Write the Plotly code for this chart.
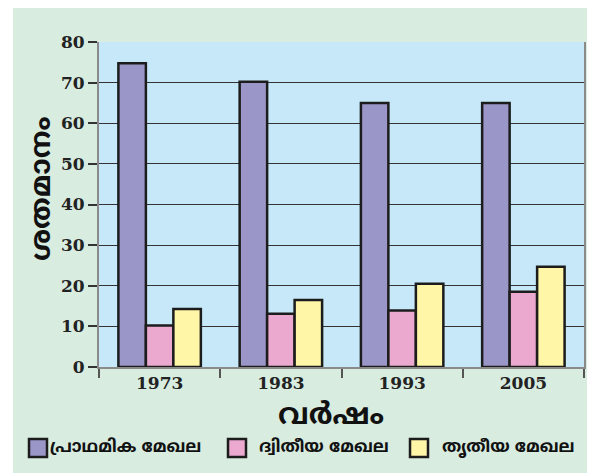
import plotly.graph_objects as go

years = ["1973", "1983", "1993", "2005"]
series_names = ["പ്രാഥമിക മേഖല", "ദ്വിതീയ മേഖല", "തൃതീയ മേഖല"]
primary = [74.8, 70.2, 65.0, 65.0]
secondary = [10.2, 13.1, 13.9, 18.5]
tertiary = [14.3, 16.5, 20.5, 24.7]
y_ticks = [0, 10, 20, 30, 40, 50, 60, 70, 80]
x_title = "വർഷം"
y_title = "ശതമാനം"

colors = ["#9b96c8", "#eba9cf", "#fff6a8"]
values = [primary, secondary, tertiary]

fig = go.Figure()
for name, vals, col in zip(series_names, values, colors):
    fig.add_trace(go.Bar(
        x=years, y=vals, name=name, showlegend=False,
        marker=dict(color=col, line=dict(color="#1c1c1c", width=2.5)),
    ))

# the page adds an 8px body margin, so figure coords = screen coords - 8
W, H = 595, 473
L, T = 91, 34
R, B = W - 576, H - 359
pw, ph = W - L - R, H - T - B


def px(x):
    return (x - L) / pw


def py(y):
    return (H - B - y) / ph


green = "#d8ece0"
mal_font = "Noto Sans Malayalam, Noto Sans, DejaVu Sans"

shapes = [
    dict(type="rect", xref="paper", yref="paper", layer="below",
         x0=px(-5), x1=px(5), y0=py(H + 5), y1=py(-5),
         fillcolor="white", line=dict(width=0)),
]
annotations = [
    dict(text=x_title, xref="paper", yref="paper", x=px(323), y=py(409),
         xanchor="center", yanchor="middle", showarrow=False,
         font=dict(family=mal_font, size=29, color="#111", weight="bold")),
    dict(text=y_title, xref="paper", yref="paper", x=px(35), y=py(181),
         xanchor="center", yanchor="middle", showarrow=False, textangle=-90,
         font=dict(family=mal_font, size=28, color="#111", weight="bold")),
]

# legend (squares + labels)
legend_sq_x = [21, 220, 402]
legend_tx_x = [40, 249, 432]
leg_y = 440
for name, col, sx, tx in zip(series_names, colors, legend_sq_x, legend_tx_x):
    shapes.append(dict(type="rect", xref="paper", yref="paper",
                       x0=px(sx), x1=px(sx + 18), y0=py(leg_y + 9), y1=py(leg_y - 9),
                       fillcolor=col, line=dict(color="#1c1c1c", width=2.5)))
    annotations.append(dict(text=name, xref="paper", yref="paper", x=px(tx), y=py(leg_y),
                            xanchor="left", yanchor="middle", showarrow=False,
                            font=dict(family=mal_font, size=17, color="#111", weight="bold")))

fig.update_layout(
    width=W, height=H,
    margin=dict(l=L, r=R, t=T, b=B, autoexpand=False),
    paper_bgcolor=green,
    plot_bgcolor="#c6e8f9",
    barmode="group", bargap=0.32, bargroupgap=0,
    showlegend=False,
    xaxis=dict(
        automargin=False,
        showline=True, linecolor="#8a8a8a", linewidth=2,
        ticks="outside", tickson="boundaries", ticklen=9, tickcolor="#555", tickwidth=1.5,
        tickfont=dict(family="DejaVu Serif", size=17, color="#222", weight="bold"),
        showgrid=False,
    ),
    yaxis=dict(
        automargin=False,
        range=[0, 80], tickvals=y_ticks,
        showline=True, mirror=True, linecolor="#8a8a8a", linewidth=2,
        ticks="outside", ticklen=9, tickcolor="#333", tickwidth=1.5,
        tickfont=dict(family="DejaVu Serif", size=17, color="#222", weight="bold"),
        showgrid=True, gridcolor="#333", gridwidth=1.2,
        zeroline=False,
    ),
    shapes=shapes,
    annotations=annotations,
)

fig.write_html("out.html")
